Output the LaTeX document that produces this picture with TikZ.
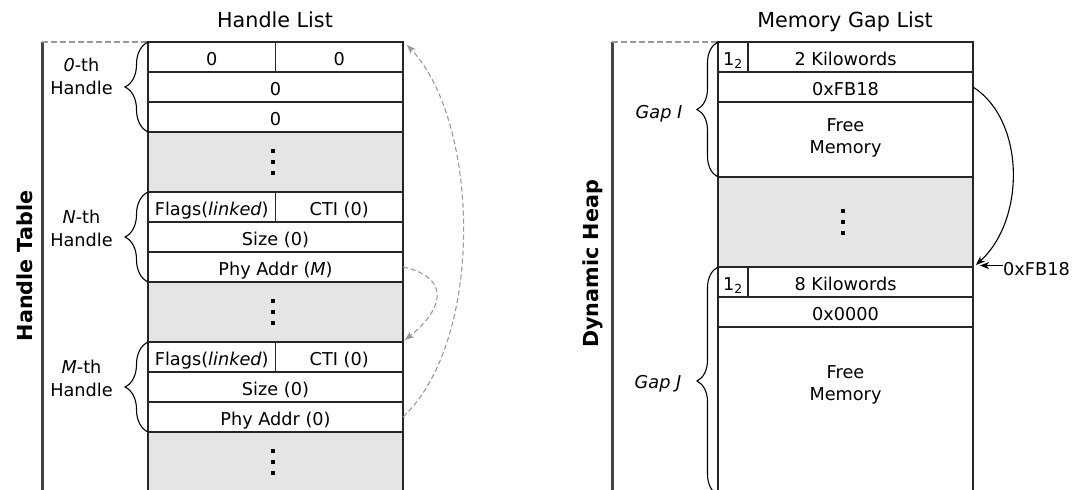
\documentclass[tikz,border=0pt]{standalone}
\usepackage{fontspec}
\setmainfont{DejaVu Sans}
\usetikzlibrary{decorations.pathreplacing,arrows.meta,calc}
\definecolor{skipfill}{HTML}{E5E5E5}
\definecolor{railgray}{HTML}{444444}
\definecolor{linkgray}{HTML}{999999}
\newcommand\cellfont{\fontsize{17.7}{22}\selectfont}
\newcommand\headfont{\fontsize{20.7}{25}\selectfont}
\newcommand\labelfont{\fontsize{17.7}{23}\selectfont}
% three square dots standing for omitted entries
\newcommand\stackdots[1]{\foreach \dy in {-11,0,11}{\fill ($(#1)+(-2.5,\dy)$) +(-2.3,-2.3) rectangle +(2.3,2.3);}}
\tikzset{
  cell/.style={draw=black!85, line width=1.2pt, fill=white, anchor=north west,
    minimum height=30pt, inner sep=0pt, outer sep=0pt, font=\cellfont,
    text height=17.6pt, text depth=1pt},
  skipcell/.style={cell, fill=skipfill},
  rail/.style={draw=railgray, line width=3pt},
  lead/.style={draw=linkgray, line width=1.1pt, dash pattern=on 6pt off 3pt},
  handlelink/.style={draw=linkgray, line width=1.1pt, dash pattern=on 5pt off 3pt,
    -{Stealth[length=9pt,width=7pt,inset=2.5pt]}},
  nextptr/.style={draw=black, line width=1.1pt,
    -{Stealth[length=9pt,width=7pt,inset=2.5pt]}},
  grp/.style={draw=black, line width=1.1pt, decorate, decoration={brace, amplitude=#1}},
  sidelabel/.style={font=\labelfont, align=center, inner sep=0pt},
  axis/.style={font=\headfont\bfseries, rotate=90, inner sep=0pt},
  title/.style={font=\headfont, anchor=base, inner sep=0pt}
}
\begin{document}
\begin{tikzpicture}[x=1pt,y=-1pt]
\clip (0,0) rectangle (1077,490);

% ---------------- handle table ----------------
\node[title] (hlist) at (275,27) {Handle List};
\node[axis] (htable) at (25,266) {Handle Table};
\coordinate (hrailtop) at (42,42);
\coordinate (hrailbot) at (42,495);
\draw[rail] (hrailtop) -- (hrailbot);

\node[cell, minimum width=127.5pt] (h0flag) at (148,42) {0};
\node[cell, minimum width=127.5pt] (h0cti)  at (275.5,42) {0};
\node[cell, minimum width=255pt] (h0size) at (148,72) {0};
\node[cell, minimum width=255pt] (h0addr) at (148,102) {0};
\node[skipcell, minimum width=255pt, minimum height=60pt] (hgap1) at (148,132) {};

\node[cell, minimum width=127.5pt] (hNflag) at (148,192) {Flags(\textit{linked})};
\node[cell, minimum width=127.5pt] (hNcti)  at (275.5,192) {CTI (0)};
\node[cell, minimum width=255pt] (hNsize) at (148,222) {Size (0)};
\node[cell, minimum width=255pt] (hNaddr) at (148,252) {Phy Addr (\textit{M})};
\node[skipcell, minimum width=255pt, minimum height=60pt] (hgap2) at (148,282) {};

\node[cell, minimum width=127.5pt] (hMflag) at (148,342) {Flags(\textit{linked})};
\node[cell, minimum width=127.5pt] (hMcti)  at (275.5,342) {CTI (0)};
\node[cell, minimum width=255pt] (hMsize) at (148,372) {Size (0)};
\node[cell, minimum width=255pt] (hMaddr) at (148,402) {Phy Addr (0)};
\node[skipcell, minimum width=255pt, minimum height=80pt] (hgap3) at (148,432) {};

\stackdots{hgap1.center}
\stackdots{hgap2.center}
\stackdots{$(hgap3.north)+(0,30)$}

\draw[lead] (hrailtop) -- (h0flag.north west);

\draw[grp=23pt] (h0addr.south west) -- (h0flag.north west);
\draw[grp=23pt] (hNaddr.south west) -- (hNflag.north west);
\draw[grp=23pt] (hMaddr.south west) -- (hMflag.north west);
\node[sidelabel] (l0) at (81.5,76.5) {\textit{0}-th\\Handle};
\node[sidelabel] (lN) at (81.5,228.1) {\textit{N}-th\\Handle};
\node[sidelabel] (lM) at (81.5,378.1) {\textit{M}-th\\Handle};

\draw[handlelink] (hMaddr.east) .. controls +(82,-77) and +(73,77) .. ([xshift=4pt,yshift=-3pt]h0cti.north east);
\draw[handlelink] (hNaddr.east) .. controls +(47,10) and +(40,-32) .. ([xshift=2pt,yshift=2pt]hMcti.north east);

% ---------------- memory gap list ----------------
\node[title] (glist) at (845,27) {Memory Gap List};
\node[axis] (dheap) at (592.5,264) {Dynamic Heap};
\coordinate (grailtop) at (612,42);
\coordinate (grailbot) at (612,495);
\draw[rail] (grailtop) -- (grailbot);

% the size text is centred on the whole row; the flag bit sits in a box on its left
\node[cell, minimum width=255pt] (g1size) at (718,42) {2 Kilowords};
\node[cell, minimum width=30pt] (g1flag) at (718,42) {1\textsubscript{2}};
\node[cell, minimum width=255pt] (g1next) at (718,72) {0xFB18};
\node[cell, minimum width=255pt, minimum height=75pt] (g1free) at (718,102) {};
\node[skipcell, minimum width=255pt, minimum height=90pt] (ggap) at (718,177) {};

\node[cell, minimum width=255pt] (g2size) at (718,267) {8 Kilowords};
\node[cell, minimum width=30pt] (g2flag) at (718,267) {1\textsubscript{2}};
\node[cell, minimum width=255pt] (g2next) at (718,297) {0x0000};
\node[cell, minimum width=255pt, minimum height=190pt] (g2free) at (718,327) {};

\node[font=\cellfont, align=center, inner sep=0pt] (g1text) at (845.5,137.9) {Free\\Memory};
\node[font=\cellfont, align=center, inner sep=0pt] (g2text) at (845.5,384.5) {Free\\Memory};

\stackdots{ggap.center}

\draw[lead] (grailtop) -- (g1flag.north west);

\draw[grp=21pt] (g1free.south west) -- (g1flag.north west);
\coordinate (g2end) at (718,495);
\draw[grp=21pt] (g2end) -- (g2flag.north west);
\node[font=\labelfont\itshape, anchor=base, inner sep=0pt] (gapI) at (659,118.3) {Gap I};
\node[font=\labelfont\itshape, anchor=base, inner sep=0pt] (gapJ) at (658,388.3) {Gap J};

\draw[nextptr] (g1next.east) .. controls +(52,33) and +(50,-46) .. ([xshift=3pt,yshift=2pt]g2size.north east);

\node[font=\cellfont, anchor=base west, inner sep=0pt] (fbref) at (1003,275) {0xFB18};
\draw[nextptr] ([yshift=3pt]fbref.west) -- ++(-23,0);
\end{tikzpicture}
\end{document}
